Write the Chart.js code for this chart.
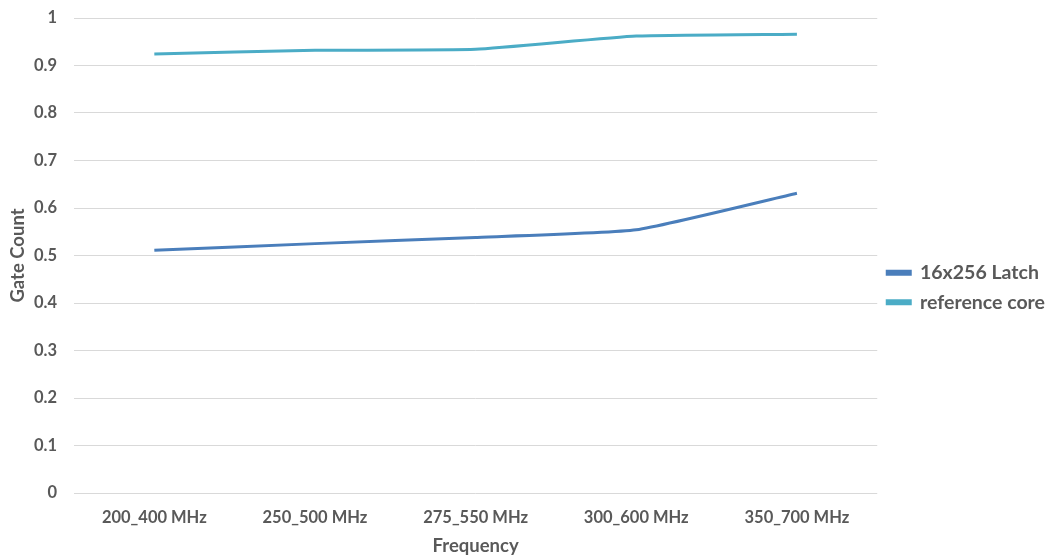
<!DOCTYPE html>
<html>
<head>
<meta charset="utf-8">
<script src="https://cdn.jsdelivr.net/npm/chart.js@4/dist/chart.umd.min.js"></script>
<style>
  html, body { margin: 0; padding: 0; background: #ffffff; }
  #wrap { width: 1051px; height: 557px; position: relative; }
</style>
</head>
<body>
<div id="wrap"><canvas id="c" width="1051" height="557"></canvas></div>
<script>
// Frequency configurations on the x axis
const categories = ["200_400 MHz", "250_500 MHz", "275_550 MHz", "300_600 MHz", "350_700 MHz"];
// Normalised gate count per configuration
const latchValues = [0.511, 0.525, 0.538, 0.554, 0.631];
const referenceValues = [0.924, 0.932, 0.934, 0.962, 0.966];
const seriesNames = ["16x256 Latch", "reference core"];
const xTitle = "Frequency";
const yTitle = "Gate Count";

const textColor = "#595959";
const gridColor = "#d9d9d9";
const fontFamily = "Lato, 'Open Sans', sans-serif";

new Chart(document.getElementById("c"), {
  type: "line",
  data: {
    labels: categories,
    datasets: [
      {
        label: seriesNames[0],
        data: latchValues,
        borderColor: "#4a7ebb",
        backgroundColor: "#4a7ebb",
        borderWidth: 3,
        pointRadius: 0,
        tension: 0.15,
        fill: false
      },
      {
        label: seriesNames[1],
        data: referenceValues,
        borderColor: "#4bacc6",
        backgroundColor: "#4bacc6",
        borderWidth: 3,
        pointRadius: 0,
        tension: 0.15,
        fill: false
      }
    ]
  },
  options: {
    responsive: false,
    animation: false,
    layout: { padding: { top: 18, right: -4, bottom: 0, left: 2 } },
    plugins: {
      tooltip: { enabled: false },
      legend: {
        position: "right",
        align: "center",
        labels: {
          color: textColor,
          font: { family: fontFamily, size: 19.5, weight: "bold" },
          boxWidth: 23,
          boxHeight: 3,
          padding: 10
        }
      }
    },
    scales: {
      x: {
        offset: true,
        grid: { display: false },
        border: { display: false },
        ticks: {
          color: textColor,
          font: { family: fontFamily, size: 16.5, weight: "bold" },
          maxRotation: 0,
          padding: 7
        },
        title: {
          display: true,
          text: xTitle,
          color: textColor,
          font: { family: fontFamily, size: 18.5, weight: "bold" },
          padding: { top: 0, bottom: 0 }
        }
      },
      y: {
        min: 0,
        max: 1,
        afterFit: function (scale) {
          scale.width = 72;
          scale.paddingTop = 0;
          scale.paddingBottom = 0;
        },
        grid: { color: gridColor, lineWidth: 1, drawTicks: false },
        border: { display: false },
        ticks: {
          stepSize: 0.1,
          color: textColor,
          font: { family: fontFamily, size: 16.5, weight: "bold" },
          padding: 17,
          callback: function (v) { return Math.round(v * 10) / 10; }
        },
        title: {
          display: true,
          text: yTitle,
          color: textColor,
          font: { family: fontFamily, size: 18.5, weight: "bold" },
          padding: { top: 5, bottom: 4 }
        }
      }
    }
  }
});
</script>
</body>
</html>
